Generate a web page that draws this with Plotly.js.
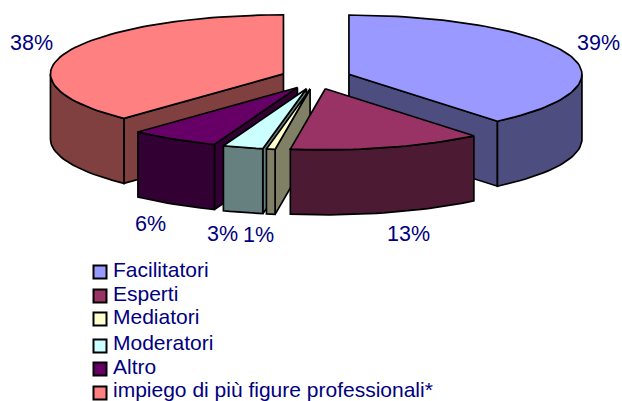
<!DOCTYPE html>
<html>
<head>
<meta charset="utf-8">
<script src="https://cdn.plot.ly/plotly-3.0.1.min.js"></script>
<style>html,body{margin:0;padding:0;background:#fff}#chart{width:622px;height:401px}</style>
</head>
<body>
<div id="chart"></div>
<script>
// Data (shares in percent; labels show them rounded)
const categories = ["Facilitatori", "Esperti", "Mediatori", "Moderatori", "Altro", "impiego di più figure professionali*"];
const shares = [39, 13.4, 0.6, 2.8, 6.2, 38];
const topColors = ["#9999FF", "#993366", "#FFFFCC", "#CCFFFF", "#660066", "#FF8080"];
const sideColors = ["#4D4D80", "#4D1A33", "#808066", "#668080", "#330033", "#804040"];

// Pie projection
const CX = 316, CY = 78, RX = 233, RY_BACK = 59, RY_FRONT = 61, DEPTH = 65, EXPLODE = 35, EXPLODE_Y = 0.32;
const INK = "#000000", TEXT = "#000080";
const FONT = "Liberation Sans, Arial, sans-serif";
const rad = d => d * Math.PI / 180;

const total = shares.reduce((a, b) => a + b, 0);
let running = 0;
const slices = shares.map((v, i) => {
  const a0 = running / total * 360;
  running += v;
  const a1 = running / total * 360;
  const mid = rad((a0 + a1) / 2);
  return {i, a0, a1,
    ax: CX + EXPLODE * Math.sin(mid),
    ay: CY - EXPLODE * EXPLODE_Y * Math.cos(mid)};
});

function rim(s, deg, dz) {
  const c = Math.cos(rad(deg));
  return [s.ax + RX * Math.sin(rad(deg)), s.ay - (c > 0 ? RY_BACK : RY_FRONT) * c + dz];
}
function arc(s, from, to, dz) {
  const n = Math.max(2, Math.ceil(Math.abs(to - from) / 2));
  const pts = [];
  for (let k = 0; k <= n; k++) pts.push(rim(s, from + (to - from) * k / n, dz));
  return pts;
}
function poly(pts, fill, name) {
  const closed = pts.concat([pts[0]]);
  return {type: "scatter", mode: "lines", x: closed.map(p => p[0]), y: closed.map(p => p[1]),
    fill: "toself", fillcolor: fill, line: {color: INK, width: 1.7}, name,
    showlegend: false, hoverinfo: "skip"};
}

const traces = [];
// back-to-front painting order
[0, 5, 4, 3, 2, 1].forEach(idx => {
  const s = slices[idx], side = sideColors[idx], top = topColors[idx], name = categories[idx];
  const apex = [s.ax, s.ay], apexLow = [s.ax, s.ay + DEPTH];
  // cut faces turned towards the viewer
  const cuts = [];
  if (Math.sin(rad(s.a0)) < -1e-6) cuts.push(s.a0);
  if (Math.sin(rad(s.a1)) > 1e-6) cuts.push(s.a1);
  cuts.forEach(a => {
    const p = rim(s, a, 0), q = rim(s, a, DEPTH);
    traces.push(poly([apex, apexLow, q, p], side, name));
  });
  // outer wall: only the part of the rim turned to the viewer
  const f = Math.max(s.a0, 90), t = Math.min(s.a1, 270);
  if (t > f) traces.push(poly(arc(s, f, t, 0).concat(arc(s, t, f, DEPTH)), side, name));
  // top face
  traces.push(poly([apex].concat(arc(s, s.a0, s.a1, 0)), top, name));
});

// Legend swatches
const legendRows = [272, 296, 319, 346, 369, 393];
const legendText = [269, 293, 316, 342, 366, 389];
traces.push({type: "scatter", mode: "markers", x: categories.map(() => 100), y: legendRows,
  marker: {symbol: "square", size: 13, color: topColors, line: {color: INK, width: 2}},
  showlegend: false, hoverinfo: "skip"});

const annotations = [];
const labelAt = [[598, 43], [408, 234], [258, 235], [222, 234], [150, 224], [31, 43]];
shares.forEach((v, i) => annotations.push({x: labelAt[i][0], y: labelAt[i][1], xref: "x", yref: "y",
  text: Math.round(v) + "%", showarrow: false, xanchor: "center", yanchor: "middle",
  font: {family: FONT, size: 21.5, color: TEXT}}));
categories.forEach((c, i) => annotations.push({x: 111, y: legendText[i], xref: "x", yref: "y",
  text: c, showarrow: false, xanchor: "left", yanchor: "middle",
  font: {family: FONT, size: 21, color: TEXT}}));

Plotly.newPlot("chart", traces, {
  width: 622, height: 401, margin: {l: 0, r: 0, t: 0, b: 0},
  paper_bgcolor: "#fff", plot_bgcolor: "#fff", showlegend: false,
  xaxis: {range: [0, 622], visible: false, fixedrange: true},
  yaxis: {range: [401, 0], visible: false, fixedrange: true},
  annotations
}, {displayModeBar: false, staticPlot: true});
</script>
</body>
</html>
